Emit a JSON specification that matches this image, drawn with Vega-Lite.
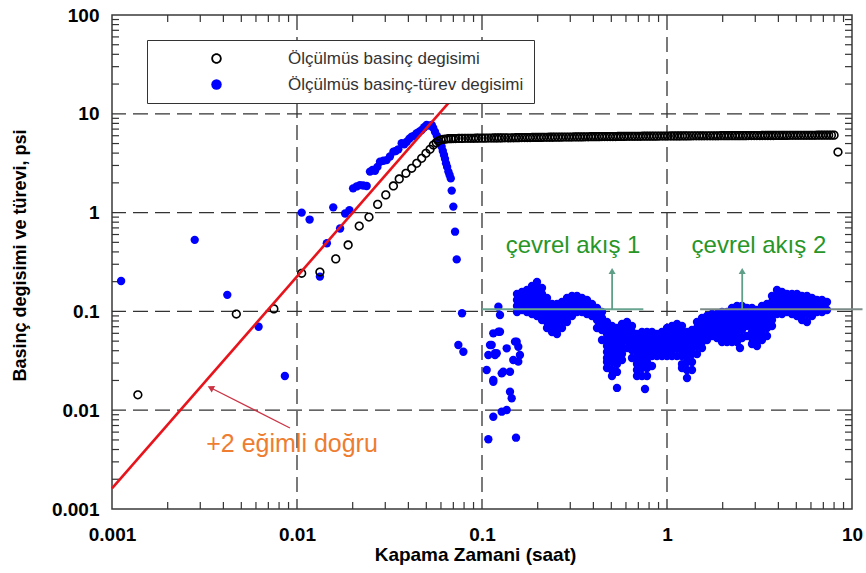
{
  "$schema": "https://vega.github.io/schema/vega-lite/v6.json",
  "width": 740,
  "height": 494,
  "autosize": {"type": "none"},
  "padding": {"left": 112, "top": 15, "right": 14, "bottom": 64},
  "background": "white",
  "config": {
    "font": "Liberation Sans",
    "view": {"stroke": "#3a3a3a", "strokeWidth": 1.5},
    "legend": {
      "labelFont": "Liberation Sans",
      "labelFontSize": 17,
      "labelColor": "#333333",
      "labelLimit": 400,
      "symbolSize": 110,
      "symbolStrokeWidth": 0,
      "padding": 10,
      "rowPadding": 8,
      "symbolOffset": 51,
      "labelOffset": 63,
      "strokeColor": "#333333",
      "fillColor": "#ffffff"
    }
  },
  "datasets": {
    "minorX": [
      {"v": 0.002}, {"v": 0.003}, {"v": 0.004}, {"v": 0.005}, {"v": 0.006}, {"v": 0.007}, {"v": 0.008}, {"v": 0.009},
      {"v": 0.02}, {"v": 0.03}, {"v": 0.04}, {"v": 0.05}, {"v": 0.06}, {"v": 0.07}, {"v": 0.08}, {"v": 0.09},
      {"v": 0.2}, {"v": 0.3}, {"v": 0.4}, {"v": 0.5}, {"v": 0.6}, {"v": 0.7}, {"v": 0.8}, {"v": 0.9},
      {"v": 2}, {"v": 3}, {"v": 4}, {"v": 5}, {"v": 6}, {"v": 7}, {"v": 8}, {"v": 9}
    ],
    "minorY": [
      {"v": 0.002}, {"v": 0.003}, {"v": 0.004}, {"v": 0.005}, {"v": 0.006}, {"v": 0.007}, {"v": 0.008}, {"v": 0.009},
      {"v": 0.02}, {"v": 0.03}, {"v": 0.04}, {"v": 0.05}, {"v": 0.06}, {"v": 0.07}, {"v": 0.08}, {"v": 0.09},
      {"v": 0.2}, {"v": 0.3}, {"v": 0.4}, {"v": 0.5}, {"v": 0.6}, {"v": 0.7}, {"v": 0.8}, {"v": 0.9},
      {"v": 2}, {"v": 3}, {"v": 4}, {"v": 5}, {"v": 6}, {"v": 7}, {"v": 8}, {"v": 9},
      {"v": 20}, {"v": 30}, {"v": 40}, {"v": 50}, {"v": 60}, {"v": 70}, {"v": 80}, {"v": 90}
    ],
    "basinc": [
      {"t": 0.00138, "p": 0.0143}, {"t": 0.0047, "p": 0.094}, {"t": 0.0075, "p": 0.106},
      {"t": 0.0106, "p": 0.243}, {"t": 0.0133, "p": 0.25}, {"t": 0.0162, "p": 0.34},
      {"t": 0.0189, "p": 0.47}, {"t": 0.0217, "p": 0.73}, {"t": 0.0245, "p": 0.9},
      {"t": 0.0273, "p": 1.21}, {"t": 0.0302, "p": 1.51}, {"t": 0.0332, "p": 1.86},
      {"t": 0.0357, "p": 2.19}, {"t": 0.0388, "p": 2.5}, {"t": 0.0417, "p": 2.81},
      {"t": 0.0444, "p": 3.15}, {"t": 0.0472, "p": 3.54}, {"t": 0.0498, "p": 3.98},
      {"t": 0.0524, "p": 4.37}, {"t": 0.0546, "p": 4.83}, {"t": 0.0566, "p": 5.1},
      {"t": 0.058, "p": 5.3}, {"t": 0.06, "p": 5.45}, {"t": 0.062, "p": 5.5}, {"t": 0.064, "p": 5.55},
      {"t": 0.066, "p": 5.6}, {"t": 0.068, "p": 5.6}, {"t": 0.07, "p": 5.62}, {"t": 0.072, "p": 5.62},
      {"t": 0.075, "p": 5.63}, {"t": 0.078, "p": 5.63}, {"t": 0.081, "p": 5.64}, {"t": 0.084, "p": 5.64},
      {"t": 0.087, "p": 5.65}, {"t": 0.09, "p": 5.65}, {"t": 0.093, "p": 5.66}, {"t": 0.096, "p": 5.66},
      {"t": 0.1, "p": 5.67}, {"t": 0.104, "p": 5.67}, {"t": 0.108, "p": 5.68}, {"t": 0.112, "p": 5.68},
      {"t": 0.116, "p": 5.69}, {"t": 0.12, "p": 5.69}, {"t": 0.124, "p": 5.7}, {"t": 0.128, "p": 5.7},
      {"t": 0.133, "p": 5.71}, {"t": 0.138, "p": 5.71}, {"t": 0.143, "p": 5.72}, {"t": 0.148, "p": 5.72},
      {"t": 0.153, "p": 5.73}, {"t": 0.158, "p": 5.73}, {"t": 0.164, "p": 5.74}, {"t": 0.17, "p": 5.74},
      {"t": 0.176, "p": 5.75}, {"t": 0.182, "p": 5.75}, {"t": 0.188, "p": 5.76}, {"t": 0.195, "p": 5.76},
      {"t": 0.202, "p": 5.77}, {"t": 0.209, "p": 5.77}, {"t": 0.216, "p": 5.78}, {"t": 0.224, "p": 5.78},
      {"t": 0.232, "p": 5.79}, {"t": 0.24, "p": 5.79}, {"t": 0.248, "p": 5.8}, {"t": 0.257, "p": 5.8},
      {"t": 0.266, "p": 5.8}, {"t": 0.275, "p": 5.81}, {"t": 0.285, "p": 5.81}, {"t": 0.295, "p": 5.82},
      {"t": 0.305, "p": 5.82}, {"t": 0.316, "p": 5.83}, {"t": 0.327, "p": 5.83}, {"t": 0.338, "p": 5.84},
      {"t": 0.35, "p": 5.84}, {"t": 0.362, "p": 5.85}, {"t": 0.375, "p": 5.85}, {"t": 0.388, "p": 5.86},
      {"t": 0.401, "p": 5.86}, {"t": 0.415, "p": 5.87}, {"t": 0.43, "p": 5.87}, {"t": 0.445, "p": 5.88},
      {"t": 0.46, "p": 5.88}, {"t": 0.476, "p": 5.88}, {"t": 0.493, "p": 5.89}, {"t": 0.51, "p": 5.89},
      {"t": 0.528, "p": 5.89}, {"t": 0.546, "p": 5.9}, {"t": 0.565, "p": 5.9}, {"t": 0.585, "p": 5.9},
      {"t": 0.605, "p": 5.91}, {"t": 0.626, "p": 5.91}, {"t": 0.648, "p": 5.91}, {"t": 0.67, "p": 5.92},
      {"t": 0.694, "p": 5.92}, {"t": 0.718, "p": 5.92}, {"t": 0.743, "p": 5.93}, {"t": 0.769, "p": 5.93},
      {"t": 0.796, "p": 5.93}, {"t": 0.824, "p": 5.94}, {"t": 0.852, "p": 5.94}, {"t": 0.882, "p": 5.94},
      {"t": 0.913, "p": 5.95}, {"t": 0.945, "p": 5.95}, {"t": 0.978, "p": 5.95}, {"t": 1.01, "p": 5.95},
      {"t": 1.05, "p": 5.96}, {"t": 1.09, "p": 5.96}, {"t": 1.13, "p": 5.96}, {"t": 1.17, "p": 5.96},
      {"t": 1.21, "p": 5.97}, {"t": 1.25, "p": 5.97}, {"t": 1.29, "p": 5.97}, {"t": 1.34, "p": 5.97},
      {"t": 1.39, "p": 5.98}, {"t": 1.44, "p": 5.98}, {"t": 1.49, "p": 5.98}, {"t": 1.54, "p": 5.98},
      {"t": 1.59, "p": 5.98}, {"t": 1.65, "p": 5.99}, {"t": 1.71, "p": 5.99}, {"t": 1.77, "p": 5.99},
      {"t": 1.83, "p": 5.99}, {"t": 1.89, "p": 5.99}, {"t": 1.96, "p": 6.0}, {"t": 2.03, "p": 6.0},
      {"t": 2.1, "p": 6.0}, {"t": 2.17, "p": 6.0}, {"t": 2.25, "p": 6.0}, {"t": 2.33, "p": 6.01},
      {"t": 2.41, "p": 6.01}, {"t": 2.49, "p": 6.01}, {"t": 2.58, "p": 6.01}, {"t": 2.67, "p": 6.01},
      {"t": 2.76, "p": 6.02}, {"t": 2.86, "p": 6.02}, {"t": 2.96, "p": 6.02}, {"t": 3.06, "p": 6.02},
      {"t": 3.17, "p": 6.02}, {"t": 3.28, "p": 6.03}, {"t": 3.39, "p": 6.03}, {"t": 3.51, "p": 6.03},
      {"t": 3.63, "p": 6.03}, {"t": 3.76, "p": 6.03}, {"t": 3.89, "p": 6.04}, {"t": 4.03, "p": 6.04},
      {"t": 4.17, "p": 6.04}, {"t": 4.31, "p": 6.04}, {"t": 4.46, "p": 6.04}, {"t": 4.62, "p": 6.05},
      {"t": 4.78, "p": 6.05}, {"t": 4.95, "p": 6.05}, {"t": 5.12, "p": 6.05}, {"t": 5.3, "p": 6.05},
      {"t": 5.49, "p": 6.06}, {"t": 5.68, "p": 6.06}, {"t": 5.88, "p": 6.06}, {"t": 6.08, "p": 6.06},
      {"t": 6.3, "p": 6.06}, {"t": 6.52, "p": 6.07}, {"t": 6.75, "p": 6.07}, {"t": 6.98, "p": 6.07},
      {"t": 7.23, "p": 6.07}, {"t": 7.48, "p": 6.08}, {"t": 7.74, "p": 6.08}, {"t": 8.0, "p": 6.08},
      {"t": 8.4, "p": 4.1}
    ],
    "turev": [
      {"t": 0.00112, "d": 0.203}, {"t": 0.0028, "d": 0.53}, {"t": 0.0042, "d": 0.147},
      {"t": 0.0062, "d": 0.07}, {"t": 0.0086, "d": 0.0222},
      {"t": 0.0106, "d": 1.0}, {"t": 0.0117, "d": 0.85}, {"t": 0.0133, "d": 0.225},
      {"t": 0.0145, "d": 0.49}, {"t": 0.0157, "d": 1.13}, {"t": 0.0171, "d": 0.69},
      {"t": 0.0182, "d": 0.98}, {"t": 0.0192, "d": 1.06}, {"t": 0.0201, "d": 1.76},
      {"t": 0.021, "d": 1.84}, {"t": 0.0219, "d": 1.9}, {"t": 0.0228, "d": 1.88},
      {"t": 0.0238, "d": 1.86}, {"t": 0.0248, "d": 2.6}, {"t": 0.0256, "d": 2.7},
      {"t": 0.0264, "d": 2.65}, {"t": 0.0272, "d": 2.9}, {"t": 0.0281, "d": 3.27},
      {"t": 0.0293, "d": 3.35}, {"t": 0.0305, "d": 3.4}, {"t": 0.0318, "d": 3.7},
      {"t": 0.0332, "d": 4.14}, {"t": 0.0342, "d": 4.2}, {"t": 0.0353, "d": 4.37},
      {"t": 0.0368, "d": 5.03}, {"t": 0.038, "d": 4.9}, {"t": 0.0392, "d": 5.22},
      {"t": 0.0405, "d": 5.6}, {"t": 0.0417, "d": 5.87}, {"t": 0.043, "d": 6.0},
      {"t": 0.0444, "d": 6.35}, {"t": 0.0458, "d": 6.6}, {"t": 0.0472, "d": 6.86},
      {"t": 0.0487, "d": 7.3}, {"t": 0.0502, "d": 7.7}, {"t": 0.0518, "d": 7.6},
      {"t": 0.0535, "d": 7.7}, {"t": 0.0545, "d": 7.2}, {"t": 0.0557, "d": 6.59},
      {"t": 0.057, "d": 6.0}, {"t": 0.0581, "d": 5.43}, {"t": 0.0593, "d": 5.0},
      {"t": 0.0605, "d": 4.65}, {"t": 0.0614, "d": 4.2}, {"t": 0.0623, "d": 3.83},
      {"t": 0.0631, "d": 3.5}, {"t": 0.0639, "d": 3.15}, {"t": 0.0648, "d": 2.9},
      {"t": 0.0658, "d": 2.6}, {"t": 0.0668, "d": 2.4}, {"t": 0.0678, "d": 2.22},
      {"t": 0.0686, "d": 1.67}, {"t": 0.07, "d": 1.15}, {"t": 0.0715, "d": 0.641},
      {"t": 0.073, "d": 0.336}, {"t": 0.0745, "d": 0.0457}, {"t": 0.0793, "d": 0.0391},
      {"t": 0.078, "d": 0.0957},
      {"t": 0.1226, "d": 0.1116}, {"t": 0.1251, "d": 0.092}, {"t": 0.1151, "d": 0.06},
      {"t": 0.1226, "d": 0.0623}, {"t": 0.1251, "d": 0.0623}, {"t": 0.1128, "d": 0.0457},
      {"t": 0.1105, "d": 0.0457}, {"t": 0.1082, "d": 0.0362}, {"t": 0.1176, "d": 0.0377},
      {"t": 0.1201, "d": 0.0377}, {"t": 0.1176, "d": 0.0362}, {"t": 0.136, "d": 0.0423},
      {"t": 0.1508, "d": 0.0494}, {"t": 0.154, "d": 0.0494}, {"t": 0.1571, "d": 0.0439},
      {"t": 0.1604, "d": 0.0362}, {"t": 0.1571, "d": 0.031}, {"t": 0.1476, "d": 0.0322},
      {"t": 0.1417, "d": 0.0245}, {"t": 0.1278, "d": 0.0236}, {"t": 0.1303, "d": 0.0245},
      {"t": 0.1151, "d": 0.0194}, {"t": 0.106, "d": 0.0255}, {"t": 0.1151, "d": 0.0202},
      {"t": 0.1417, "d": 0.0154}, {"t": 0.1447, "d": 0.0132}, {"t": 0.136, "d": 0.01005},
      {"t": 0.1278, "d": 0.00966}, {"t": 0.1151, "d": 0.00859}, {"t": 0.1082, "d": 0.00508},
      {"t": 0.1527, "d": 0.00527},
      {"t": 0.1546, "d": 0.15}, {"t": 0.1546, "d": 0.1304}, {"t": 0.1546, "d": 0.1134}, {"t": 0.1546, "d": 0.0986},
      {"t": 0.1645, "d": 0.1572}, {"t": 0.1645, "d": 0.1367}, {"t": 0.1645, "d": 0.1188}, {"t": 0.1645, "d": 0.1033},
      {"t": 0.175, "d": 0.1647}, {"t": 0.175, "d": 0.1432}, {"t": 0.175, "d": 0.1245}, {"t": 0.175, "d": 0.1082}, {"t": 0.175, "d": 0.0986},
      {"t": 0.1863, "d": 0.1807}, {"t": 0.1863, "d": 0.1572}, {"t": 0.1863, "d": 0.1367}, {"t": 0.1863, "d": 0.1188}, {"t": 0.1863, "d": 0.1033}, {"t": 0.1863, "d": 0.0941},
      {"t": 0.1983, "d": 0.1984}, {"t": 0.1983, "d": 0.1726}, {"t": 0.1983, "d": 0.15}, {"t": 0.1983, "d": 0.1304}, {"t": 0.1983, "d": 0.1134}, {"t": 0.1983, "d": 0.0986}, {"t": 0.1983, "d": 0.0898},
      {"t": 0.211, "d": 0.1726}, {"t": 0.211, "d": 0.15}, {"t": 0.211, "d": 0.1304}, {"t": 0.211, "d": 0.1134}, {"t": 0.211, "d": 0.0986}, {"t": 0.211, "d": 0.0818},
      {"t": 0.2246, "d": 0.1367}, {"t": 0.2246, "d": 0.1188}, {"t": 0.2246, "d": 0.1033}, {"t": 0.2246, "d": 0.0898}, {"t": 0.2246, "d": 0.0781}, {"t": 0.2246, "d": 0.0679},
      {"t": 0.239, "d": 0.1188}, {"t": 0.239, "d": 0.1033}, {"t": 0.239, "d": 0.0898}, {"t": 0.239, "d": 0.0781}, {"t": 0.239, "d": 0.0679}, {"t": 0.239, "d": 0.0619},
      {"t": 0.2543, "d": 0.1188}, {"t": 0.2543, "d": 0.1033}, {"t": 0.2543, "d": 0.0898}, {"t": 0.2543, "d": 0.0781}, {"t": 0.2543, "d": 0.0679}, {"t": 0.2543, "d": 0.0591},
      {"t": 0.2707, "d": 0.1245}, {"t": 0.2707, "d": 0.1082}, {"t": 0.2707, "d": 0.0941}, {"t": 0.2707, "d": 0.0818}, {"t": 0.2707, "d": 0.0679},
      {"t": 0.288, "d": 0.1367}, {"t": 0.288, "d": 0.1188}, {"t": 0.288, "d": 0.1033}, {"t": 0.288, "d": 0.0898}, {"t": 0.288, "d": 0.0781},
      {"t": 0.3065, "d": 0.1432}, {"t": 0.3065, "d": 0.1245}, {"t": 0.3065, "d": 0.1082}, {"t": 0.3065, "d": 0.0898},
      {"t": 0.3262, "d": 0.1432}, {"t": 0.3262, "d": 0.1245}, {"t": 0.3262, "d": 0.1082}, {"t": 0.3262, "d": 0.0986},
      {"t": 0.3472, "d": 0.1367}, {"t": 0.3472, "d": 0.1188}, {"t": 0.3472, "d": 0.0986},
      {"t": 0.3694, "d": 0.1304}, {"t": 0.3694, "d": 0.1134}, {"t": 0.3694, "d": 0.0941},
      {"t": 0.3931, "d": 0.1188}, {"t": 0.3931, "d": 0.1033}, {"t": 0.3931, "d": 0.0898},
      {"t": 0.4184, "d": 0.1082}, {"t": 0.4184, "d": 0.0941}, {"t": 0.4184, "d": 0.0818}, {"t": 0.4184, "d": 0.0679},
      {"t": 0.4452, "d": 0.0986}, {"t": 0.4452, "d": 0.0857}, {"t": 0.4452, "d": 0.0746}, {"t": 0.4452, "d": 0.0648}, {"t": 0.4452, "d": 0.0513},
      {"t": 0.4738, "d": 0.0781}, {"t": 0.4738, "d": 0.0679}, {"t": 0.4738, "d": 0.0591}, {"t": 0.4738, "d": 0.0513}, {"t": 0.4738, "d": 0.0447}, {"t": 0.4738, "d": 0.0388}, {"t": 0.4738, "d": 0.0338}, {"t": 0.4738, "d": 0.0308}, {"t": 0.4738, "d": 0.0267},
      {"t": 0.5042, "d": 0.0712}, {"t": 0.5042, "d": 0.0619}, {"t": 0.5042, "d": 0.0538}, {"t": 0.5042, "d": 0.0468}, {"t": 0.5042, "d": 0.0407}, {"t": 0.5042, "d": 0.0354}, {"t": 0.5042, "d": 0.0308}, {"t": 0.5042, "d": 0.0255}, {"t": 0.5042, "d": 0.0222},
      {"t": 0.5366, "d": 0.0679}, {"t": 0.5366, "d": 0.0591}, {"t": 0.5366, "d": 0.0513}, {"t": 0.5366, "d": 0.0447}, {"t": 0.5366, "d": 0.0388}, {"t": 0.5366, "d": 0.0338}, {"t": 0.5366, "d": 0.0293}, {"t": 0.5366, "d": 0.0244}, {"t": 0.5366, "d": 0.0168},
      {"t": 0.5711, "d": 0.0746}, {"t": 0.5711, "d": 0.0648}, {"t": 0.5711, "d": 0.0564}, {"t": 0.5711, "d": 0.049}, {"t": 0.5711, "d": 0.0426}, {"t": 0.5711, "d": 0.0371}, {"t": 0.5711, "d": 0.0322},
      {"t": 0.6077, "d": 0.0781}, {"t": 0.6077, "d": 0.0679}, {"t": 0.6077, "d": 0.0591}, {"t": 0.6077, "d": 0.0513}, {"t": 0.6077, "d": 0.0426},
      {"t": 0.6467, "d": 0.0712}, {"t": 0.6467, "d": 0.0619}, {"t": 0.6467, "d": 0.0538}, {"t": 0.6467, "d": 0.0468}, {"t": 0.6467, "d": 0.0407}, {"t": 0.6467, "d": 0.0338},
      {"t": 0.6882, "d": 0.0591}, {"t": 0.6882, "d": 0.0513}, {"t": 0.6882, "d": 0.0447}, {"t": 0.6882, "d": 0.0388}, {"t": 0.6882, "d": 0.0338}, {"t": 0.6882, "d": 0.0293}, {"t": 0.6882, "d": 0.0255}, {"t": 0.6882, "d": 0.0222},
      {"t": 0.7325, "d": 0.0619}, {"t": 0.7325, "d": 0.0538}, {"t": 0.7325, "d": 0.0468}, {"t": 0.7325, "d": 0.0407}, {"t": 0.7325, "d": 0.0354}, {"t": 0.7325, "d": 0.0308}, {"t": 0.7325, "d": 0.0267}, {"t": 0.7325, "d": 0.0222},
      {"t": 0.7606, "d": 0.0164},
      {"t": 0.7795, "d": 0.0619}, {"t": 0.7795, "d": 0.0538}, {"t": 0.7795, "d": 0.0468}, {"t": 0.7795, "d": 0.0407}, {"t": 0.7795, "d": 0.0354}, {"t": 0.7795, "d": 0.0308}, {"t": 0.7795, "d": 0.0267}, {"t": 0.7795, "d": 0.0222},
      {"t": 0.8295, "d": 0.0619}, {"t": 0.8295, "d": 0.0538}, {"t": 0.8295, "d": 0.0468}, {"t": 0.8295, "d": 0.0407}, {"t": 0.8295, "d": 0.0354}, {"t": 0.8295, "d": 0.028},
      {"t": 0.8827, "d": 0.0591}, {"t": 0.8827, "d": 0.0513}, {"t": 0.8827, "d": 0.0447}, {"t": 0.8827, "d": 0.0388}, {"t": 0.8827, "d": 0.0354},
      {"t": 0.9397, "d": 0.0619}, {"t": 0.9397, "d": 0.0538}, {"t": 0.9397, "d": 0.0468}, {"t": 0.9397, "d": 0.0407}, {"t": 0.9397, "d": 0.0354},
      {"t": 1.0, "d": 0.0679}, {"t": 1.0, "d": 0.0591}, {"t": 1.0, "d": 0.0513}, {"t": 1.0, "d": 0.0447}, {"t": 1.0, "d": 0.0388}, {"t": 1.0, "d": 0.0354},
      {"t": 1.064, "d": 0.0712}, {"t": 1.064, "d": 0.0619}, {"t": 1.064, "d": 0.0538}, {"t": 1.064, "d": 0.0468}, {"t": 1.064, "d": 0.0407}, {"t": 1.064, "d": 0.0354},
      {"t": 1.133, "d": 0.0746}, {"t": 1.133, "d": 0.0648}, {"t": 1.133, "d": 0.0564}, {"t": 1.133, "d": 0.049}, {"t": 1.133, "d": 0.0426}, {"t": 1.133, "d": 0.0354},
      {"t": 1.205, "d": 0.0712}, {"t": 1.205, "d": 0.0619}, {"t": 1.205, "d": 0.0538}, {"t": 1.205, "d": 0.0468}, {"t": 1.205, "d": 0.0407}, {"t": 1.205, "d": 0.0354}, {"t": 1.205, "d": 0.0293}, {"t": 1.205, "d": 0.0267},
      {"t": 1.283, "d": 0.0619}, {"t": 1.283, "d": 0.0538}, {"t": 1.283, "d": 0.0468}, {"t": 1.283, "d": 0.0407}, {"t": 1.283, "d": 0.0354}, {"t": 1.283, "d": 0.0308}, {"t": 1.283, "d": 0.0255}, {"t": 1.283, "d": 0.0212},
      {"t": 1.365, "d": 0.0648}, {"t": 1.365, "d": 0.0564}, {"t": 1.365, "d": 0.049}, {"t": 1.365, "d": 0.0426}, {"t": 1.365, "d": 0.0371}, {"t": 1.365, "d": 0.0308}, {"t": 1.365, "d": 0.0255},
      {"t": 1.453, "d": 0.0781}, {"t": 1.453, "d": 0.0679}, {"t": 1.453, "d": 0.0591}, {"t": 1.453, "d": 0.0513}, {"t": 1.453, "d": 0.0447}, {"t": 1.453, "d": 0.0371},
      {"t": 1.546, "d": 0.0857}, {"t": 1.546, "d": 0.0746}, {"t": 1.546, "d": 0.0648}, {"t": 1.546, "d": 0.0564}, {"t": 1.546, "d": 0.049}, {"t": 1.546, "d": 0.0426},
      {"t": 1.645, "d": 0.0898}, {"t": 1.645, "d": 0.0781}, {"t": 1.645, "d": 0.0679}, {"t": 1.645, "d": 0.0591}, {"t": 1.645, "d": 0.0513},
      {"t": 1.751, "d": 0.0941}, {"t": 1.751, "d": 0.0818}, {"t": 1.751, "d": 0.0712}, {"t": 1.751, "d": 0.0619}, {"t": 1.751, "d": 0.0564},
      {"t": 1.863, "d": 0.0941}, {"t": 1.863, "d": 0.0818}, {"t": 1.863, "d": 0.0712}, {"t": 1.863, "d": 0.0619}, {"t": 1.863, "d": 0.0538},
      {"t": 1.983, "d": 0.0986}, {"t": 1.983, "d": 0.0857}, {"t": 1.983, "d": 0.0746}, {"t": 1.983, "d": 0.0648}, {"t": 1.983, "d": 0.0564}, {"t": 1.983, "d": 0.049},
      {"t": 2.11, "d": 0.0986}, {"t": 2.11, "d": 0.0857}, {"t": 2.11, "d": 0.0746}, {"t": 2.11, "d": 0.0648}, {"t": 2.11, "d": 0.0564}, {"t": 2.11, "d": 0.049},
      {"t": 2.246, "d": 0.1082}, {"t": 2.246, "d": 0.0941}, {"t": 2.246, "d": 0.0818}, {"t": 2.246, "d": 0.0712}, {"t": 2.246, "d": 0.0619}, {"t": 2.246, "d": 0.0538}, {"t": 2.246, "d": 0.049},
      {"t": 2.39, "d": 0.1134}, {"t": 2.39, "d": 0.0986}, {"t": 2.39, "d": 0.0857}, {"t": 2.39, "d": 0.0746}, {"t": 2.39, "d": 0.0648}, {"t": 2.39, "d": 0.0564}, {"t": 2.39, "d": 0.049},
      {"t": 2.48, "d": 0.0426},
      {"t": 2.543, "d": 0.1134}, {"t": 2.543, "d": 0.0986}, {"t": 2.543, "d": 0.0857}, {"t": 2.543, "d": 0.0746}, {"t": 2.543, "d": 0.0648}, {"t": 2.543, "d": 0.0538},
      {"t": 2.707, "d": 0.1082}, {"t": 2.707, "d": 0.0941}, {"t": 2.707, "d": 0.0818}, {"t": 2.707, "d": 0.0712}, {"t": 2.707, "d": 0.0564},
      {"t": 2.88, "d": 0.1082}, {"t": 2.88, "d": 0.0941}, {"t": 2.88, "d": 0.0818}, {"t": 2.88, "d": 0.0712}, {"t": 2.88, "d": 0.0619}, {"t": 2.88, "d": 0.0538}, {"t": 2.88, "d": 0.0468},
      {"t": 3.065, "d": 0.1033}, {"t": 3.065, "d": 0.0898}, {"t": 3.065, "d": 0.0781}, {"t": 3.065, "d": 0.0679}, {"t": 3.065, "d": 0.0591}, {"t": 3.065, "d": 0.0513}, {"t": 3.065, "d": 0.0447},
      {"t": 3.262, "d": 0.1134}, {"t": 3.262, "d": 0.0986}, {"t": 3.262, "d": 0.0857}, {"t": 3.262, "d": 0.0746}, {"t": 3.262, "d": 0.0648}, {"t": 3.262, "d": 0.0564}, {"t": 3.262, "d": 0.0513},
      {"t": 3.472, "d": 0.1188}, {"t": 3.472, "d": 0.1033}, {"t": 3.472, "d": 0.0898}, {"t": 3.472, "d": 0.0781}, {"t": 3.472, "d": 0.0679}, {"t": 3.472, "d": 0.0564},
      {"t": 3.694, "d": 0.1432}, {"t": 3.694, "d": 0.1245}, {"t": 3.694, "d": 0.1082}, {"t": 3.694, "d": 0.0941}, {"t": 3.694, "d": 0.0818}, {"t": 3.694, "d": 0.0712},
      {"t": 3.931, "d": 0.1647}, {"t": 3.931, "d": 0.1432}, {"t": 3.931, "d": 0.1245}, {"t": 3.931, "d": 0.1082}, {"t": 3.931, "d": 0.0941},
      {"t": 4.184, "d": 0.1572}, {"t": 4.184, "d": 0.1367}, {"t": 4.184, "d": 0.1188}, {"t": 4.184, "d": 0.1033}, {"t": 4.184, "d": 0.0941},
      {"t": 4.452, "d": 0.15}, {"t": 4.452, "d": 0.1304}, {"t": 4.452, "d": 0.1134}, {"t": 4.452, "d": 0.0986},
      {"t": 4.738, "d": 0.15}, {"t": 4.738, "d": 0.1304}, {"t": 4.738, "d": 0.1134}, {"t": 4.738, "d": 0.0941},
      {"t": 5.042, "d": 0.15}, {"t": 5.042, "d": 0.1304}, {"t": 5.042, "d": 0.1134}, {"t": 5.042, "d": 0.0986}, {"t": 5.042, "d": 0.0898},
      {"t": 5.366, "d": 0.1432}, {"t": 5.366, "d": 0.1245}, {"t": 5.366, "d": 0.1082}, {"t": 5.366, "d": 0.0941}, {"t": 5.366, "d": 0.0818},
      {"t": 5.711, "d": 0.1432}, {"t": 5.711, "d": 0.1245}, {"t": 5.711, "d": 0.1082}, {"t": 5.711, "d": 0.0941}, {"t": 5.711, "d": 0.0781},
      {"t": 6.077, "d": 0.1367}, {"t": 6.077, "d": 0.1188}, {"t": 6.077, "d": 0.1033}, {"t": 6.077, "d": 0.0898},
      {"t": 6.467, "d": 0.1304}, {"t": 6.467, "d": 0.1134}, {"t": 6.467, "d": 0.0986},
      {"t": 6.882, "d": 0.1304}, {"t": 6.882, "d": 0.1134}, {"t": 6.882, "d": 0.0986},
      {"t": 7.325, "d": 0.1245}, {"t": 7.325, "d": 0.1033}
    ]
  },
  "layer": [
    {
      "description": "Vertical dashed grid lines at the decades; also carries the x axis",
      "data": {"values": [{"t": 0.01}, {"t": 0.1}, {"t": 1}]},
      "mark": {"type": "rule", "color": "#333333", "strokeWidth": 1.3, "strokeDash": [15, 7]},
      "encoding": {
        "x": {
          "field": "t", "type": "quantitative",
          "scale": {"type": "log", "domain": [0.001, 10]},
          "axis": {
            "orient": "bottom",
            "values": [0.001, 0.01, 0.1, 1, 10],
            "format": "~g",
            "grid": false, "domain": false, "ticks": false,
            "labelFont": "Liberation Sans", "labelFontWeight": "bold", "labelFontSize": 19, "labelColor": "#000000",
            "labelPadding": 16, "labelFlush": false, "labelOverlap": false, "labelBaseline": "top",
            "title": "Kapama Zamani (saat)",
            "titleFont": "Liberation Sans", "titleFontWeight": "bold", "titleFontSize": 19, "titleColor": "#000000",
            "titleX": 363, "titleY": 51, "titleAlign": "center", "titleBaseline": "alphabetic"
          }
        }
      }
    },
    {
      "description": "Horizontal dashed grid lines at the decades; also carries the y axis",
      "data": {"values": [{"d": 0.01}, {"d": 0.1}, {"d": 1}, {"d": 10}]},
      "mark": {"type": "rule", "color": "#333333", "strokeWidth": 1.3, "strokeDash": [15, 7]},
      "encoding": {
        "y": {
          "field": "d", "type": "quantitative",
          "scale": {"type": "log", "domain": [0.001, 100]},
          "axis": {
            "orient": "left",
            "values": [0.001, 0.01, 0.1, 1, 10, 100],
            "format": "~g",
            "grid": false, "domain": false, "ticks": false,
            "labelFont": "Liberation Sans", "labelFontWeight": "bold", "labelFontSize": 19, "labelColor": "#000000",
            "labelPadding": 13, "labelFlush": false, "labelOverlap": false,
            "title": "Basinç degisimi ve türevi, psi",
            "titleFont": "Liberation Sans", "titleFontWeight": "bold", "titleFontSize": 18, "titleColor": "#000000",
            "titleX": -92, "titleY": 240, "titleAngle": -90, "titleAlign": "center", "titleBaseline": "middle"
          }
        }
      }
    },
    {
      "description": "Inward minor ticks on the bottom edge",
      "data": {"name": "minorX"},
      "mark": {"type": "tick", "orient": "vertical", "size": 14, "thickness": 1.2, "color": "#333333", "opacity": 1, "clip": true},
      "encoding": {
        "x": {"field": "v", "type": "quantitative"},
        "y": {"datum": 0.001, "type": "quantitative"}
      }
    },
    {
      "description": "Inward minor ticks on the top edge",
      "data": {"name": "minorX"},
      "mark": {"type": "tick", "orient": "vertical", "size": 14, "thickness": 1.2, "color": "#333333", "opacity": 1, "clip": true},
      "encoding": {
        "x": {"field": "v", "type": "quantitative"},
        "y": {"datum": 100, "type": "quantitative"}
      }
    },
    {
      "description": "Inward minor ticks on the left edge",
      "data": {"name": "minorY"},
      "mark": {"type": "tick", "orient": "horizontal", "size": 14, "thickness": 1.2, "color": "#333333", "opacity": 1, "clip": true},
      "encoding": {
        "y": {"field": "v", "type": "quantitative"},
        "x": {"datum": 0.001, "type": "quantitative"}
      }
    },
    {
      "description": "Inward minor ticks on the right edge",
      "data": {"name": "minorY"},
      "mark": {"type": "tick", "orient": "horizontal", "size": 14, "thickness": 1.2, "color": "#333333", "opacity": 1, "clip": true},
      "encoding": {
        "y": {"field": "v", "type": "quantitative"},
        "x": {"datum": 10, "type": "quantitative"}
      }
    },
    {
      "description": "Measured pressure derivative",
      "data": {"name": "turev"},
      "mark": {"type": "point", "filled": true, "size": 70, "opacity": 1},
      "encoding": {
        "x": {"field": "t", "type": "quantitative"},
        "y": {"field": "d", "type": "quantitative"},
        "color": {
          "datum": "Ölçülmüs basinç-türev degisimi",
          "scale": {"domain": ["Ölçülmüs basinç degisimi", "Ölçülmüs basinç-türev degisimi"], "range": ["#000000", "#0000ff"]},
          "legend": {"orient": "none", "legendX": 35, "legendY": 25, "title": null}
        },
        "shape": {
          "datum": "Ölçülmüs basinç-türev degisimi",
          "scale": {
            "domain": ["Ölçülmüs basinç degisimi", "Ölçülmüs basinç-türev degisimi"],
            "range": ["M -1 0 A 1 1 0 1 0 1 0 A 1 1 0 1 0 -1 0 Z M -0.66 0 A 0.66 0.66 0 1 1 0.66 0 A 0.66 0.66 0 1 1 -0.66 0 Z", "circle"]
          },
          "legend": {"orient": "none", "legendX": 35, "legendY": 25, "title": null}
        }
      }
    },
    {
      "description": "Measured pressure change, drawn as open rings",
      "data": {"name": "basinc"},
      "mark": {"type": "point", "filled": true, "size": 86, "opacity": 1},
      "encoding": {
        "x": {"field": "t", "type": "quantitative"},
        "y": {"field": "p", "type": "quantitative"},
        "color": {"datum": "Ölçülmüs basinç degisimi"},
        "shape": {"datum": "Ölçülmüs basinç degisimi"}
      }
    },
    {
      "description": "Straight line of slope +2",
      "data": {"values": [{"t": 0.001, "d": 0.00162}, {"t": 0.0658, "d": 12.8}]},
      "mark": {"type": "line", "color": "#e8141c", "strokeWidth": 2.6},
      "encoding": {
        "x": {"field": "t", "type": "quantitative"},
        "y": {"field": "d", "type": "quantitative"}
      }
    },
    {
      "description": "Pointer to the slope line",
      "data": {"values": [{"t": 0.00916, "d": 0.00661, "t2": 0.00341, "d2": 0.01686}]},
      "mark": {"type": "rule", "color": "#cc3344", "strokeWidth": 1.3},
      "encoding": {
        "x": {"field": "t", "type": "quantitative"},
        "y": {"field": "d", "type": "quantitative"},
        "x2": {"field": "t2"},
        "y2": {"field": "d2"}
      }
    },
    {
      "data": {"values": [{"t": 0.00341, "d": 0.01686}]},
      "mark": {"type": "point", "shape": "triangle-up", "filled": true, "size": 55, "angle": 297, "color": "#cc3344", "opacity": 1},
      "encoding": {
        "x": {"field": "t", "type": "quantitative"},
        "y": {"field": "d", "type": "quantitative"}
      }
    },
    {
      "data": {"values": [{"t": 0.0094, "d": 0.003775, "label": "+2 eğimli doğru"}]},
      "mark": {"type": "text", "font": "Liberation Sans", "fontSize": 25, "color": "#ee7d31", "align": "center", "baseline": "alphabetic"},
      "encoding": {
        "x": {"field": "t", "type": "quantitative"},
        "y": {"field": "d", "type": "quantitative"},
        "text": {"field": "label"}
      }
    },
    {
      "description": "Radial flow levels",
      "data": {"values": [{"t": 0.1, "t2": 0.745, "d": 0.105}]},
      "mark": {"type": "rule", "color": "#6aa592", "strokeWidth": 2},
      "encoding": {
        "x": {"field": "t", "type": "quantitative"},
        "x2": {"field": "t2"},
        "y": {"field": "d", "type": "quantitative"}
      }
    },
    {
      "data": {"values": [{"t": 1.51, "t2": 11.4, "d": 0.105}]},
      "mark": {"type": "rule", "color": "#7d8c88", "strokeWidth": 2, "clip": false},
      "encoding": {
        "x": {"field": "t", "type": "quantitative"},
        "x2": {"field": "t2"},
        "y": {"field": "d", "type": "quantitative"}
      }
    },
    {
      "data": {"values": [{"t": 0.505, "d": 0.105, "d2": 0.2566}, {"t": 2.55, "d": 0.105, "d2": 0.2566}]},
      "mark": {"type": "rule", "color": "#5f9f88", "strokeWidth": 1.8},
      "encoding": {
        "x": {"field": "t", "type": "quantitative"},
        "y": {"field": "d", "type": "quantitative"},
        "y2": {"field": "d2"}
      }
    },
    {
      "data": {"values": [{"t": 0.505, "d": 0.2566}, {"t": 2.55, "d": 0.2566}]},
      "mark": {"type": "point", "shape": "triangle-up", "filled": true, "size": 50, "color": "#5f9f88", "opacity": 1},
      "encoding": {
        "x": {"field": "t", "type": "quantitative"},
        "y": {"field": "d", "type": "quantitative"}
      }
    },
    {
      "data": {"values": [{"t": 0.3105, "d": 0.387, "label": "çevrel akış 1"}, {"t": 3.14, "d": 0.387, "label": "çevrel akış 2"}]},
      "mark": {"type": "text", "font": "Liberation Sans", "fontSize": 24, "color": "#279627", "align": "center", "baseline": "alphabetic"},
      "encoding": {
        "x": {"field": "t", "type": "quantitative"},
        "y": {"field": "d", "type": "quantitative"},
        "text": {"field": "label"}
      }
    }
  ]
}
